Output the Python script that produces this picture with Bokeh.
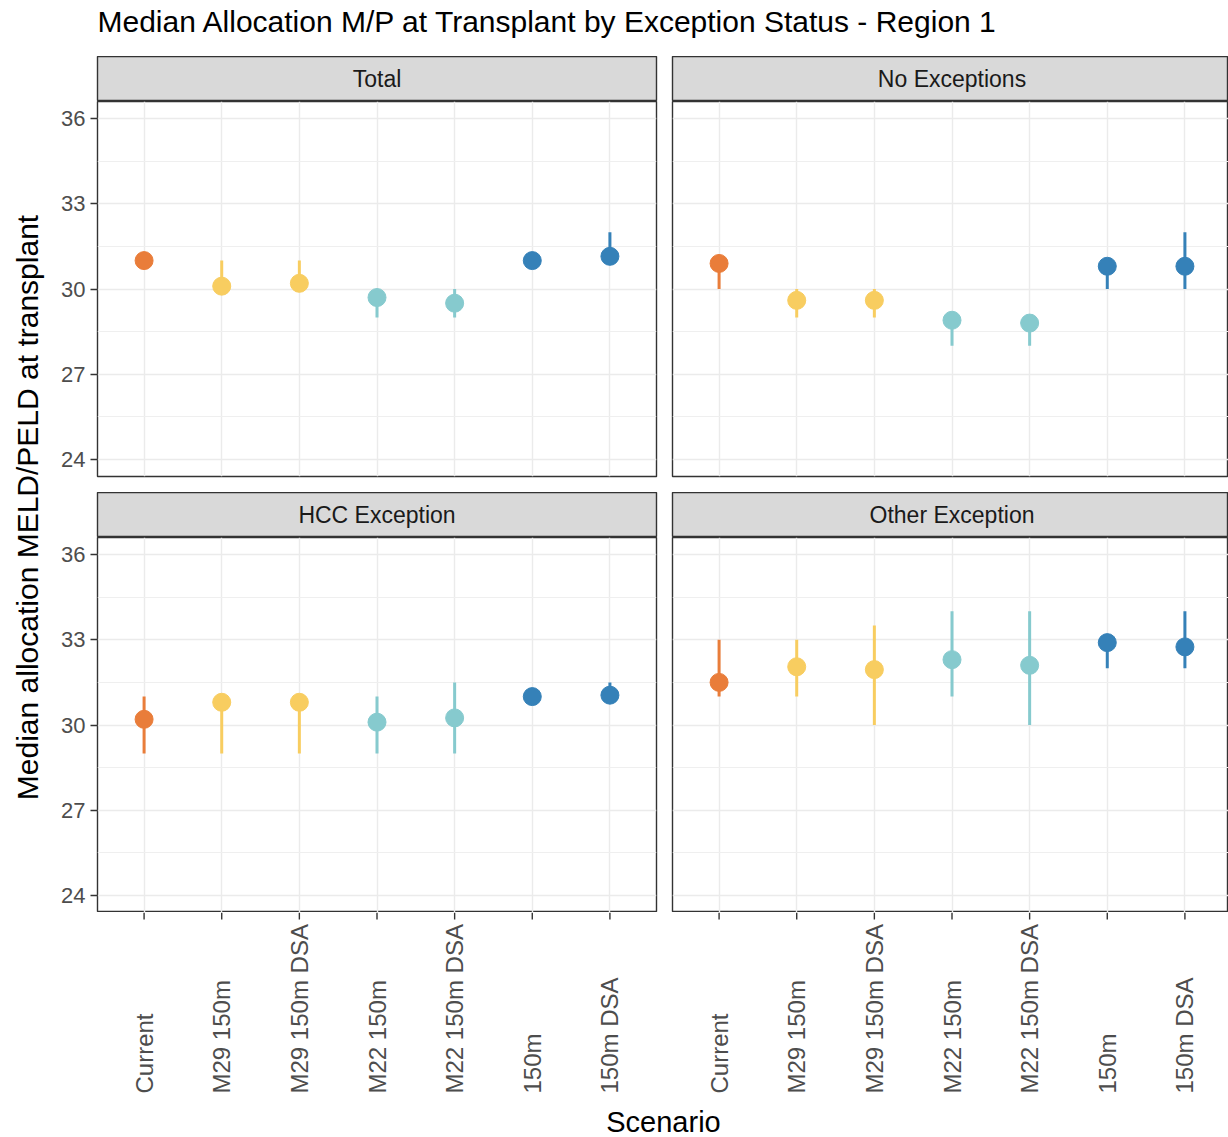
import math
from bokeh.plotting import figure
from bokeh.layouts import column, row
from bokeh.models import Range1d, FixedTicker, ColumnDataSource
from bokeh.core.properties import value
from bokeh.embed import file_html
from bokeh.resources import INLINE

# ---------------- data ----------------
scenarios = ["Current", "M29 150m", "M29 150m DSA", "M22 150m", "M22 150m DSA", "150m", "150m DSA"]
scenario_group = ["Current", "M29", "M29", "M22", "M22", "150m", "150m"]
group_colors = {"Current": "#E97D3A", "M29": "#F8CD60", "M22": "#86CACE", "150m": "#3581B8"}

facets = ["Total", "No Exceptions", "HCC Exception", "Other Exception"]

total_med = [31.0, 30.1, 30.2, 29.7, 29.5, 31.0, 31.15]
total_lo = [31.0, 30.0, 30.0, 29.0, 29.0, 31.0, 31.0]
total_hi = [31.0, 31.0, 31.0, 30.0, 30.0, 31.0, 32.0]

noexc_med = [30.9, 29.6, 29.6, 28.9, 28.8, 30.8, 30.8]
noexc_lo = [30.0, 29.0, 29.0, 28.0, 28.0, 30.0, 30.0]
noexc_hi = [31.0, 30.0, 30.0, 29.0, 29.0, 31.0, 32.0]

hcc_med = [30.2, 30.8, 30.8, 30.1, 30.25, 31.0, 31.05]
hcc_lo = [29.0, 29.0, 29.0, 29.0, 29.0, 31.0, 31.0]
hcc_hi = [31.0, 31.0, 31.0, 31.0, 31.5, 31.0, 31.5]

other_med = [31.5, 32.05, 31.95, 32.3, 32.1, 32.9, 32.75]
other_lo = [31.0, 31.0, 30.0, 31.0, 30.0, 32.0, 32.0]
other_hi = [33.0, 33.0, 33.5, 34.0, 34.0, 33.0, 34.0]

y_ticks = [24, 27, 30, 33, 36]
y_minor = [25.5, 28.5, 31.5, 34.5]

title_text = "Median Allocation M/P at Transplant by Exception Status - Region 1"
y_title = "Median allocation MELD/PELD at transplant"
x_title = "Scenario"

# ---------------- layout constants ----------------
FONT = value("Liberation Sans")
TITLE_H = 56
YLAB_W = 56
LEFT_PAD = 41
GAP_HALF = 8
FRAME_W_L = 559
FRAME_W_R = 556
STRIP_H = 45
FRAME_H = 375
ROW_GAP = 16
LABEL_H = 186
XT_H = 39
TOTAL_W = YLAB_W + LEFT_PAD + FRAME_W_L + GAP_HALF + GAP_HALF + FRAME_W_R

n = len(scenarios)
xs = [i + 1 for i in range(n)]
x_start = 0.4
x_end_full = n + 0.6
x_end_right = x_start + (x_end_full - x_start) * FRAME_W_R / FRAME_W_L
colors = [group_colors[g] for g in scenario_group]


def base_fig(width, height, x_end, y_range, mbl, mbr, mbt=0, mbb=0, yaxis=False):
    p = figure(width=width, height=height, x_range=Range1d(x_start, x_end),
               y_range=y_range, output_backend="svg", toolbar_location=None,
               title=None, x_axis_location=None,
               y_axis_location="left" if yaxis else None,
               min_border_left=mbl, min_border_right=mbr,
               min_border_top=mbt, min_border_bottom=mbb,
               background_fill_color="white", border_fill_color="white")
    return p


def dims(is_left):
    if is_left:
        return LEFT_PAD + FRAME_W_L + GAP_HALF, LEFT_PAD, GAP_HALF, x_end_full
    return GAP_HALF + FRAME_W_R, GAP_HALF, 0, x_end_right


def panel(med, lo, hi, is_left, is_top):
    w, mbl, mbr, xe = dims(is_left)
    mbb = ROW_GAP if is_top else 0
    p = base_fig(w, FRAME_H + mbb, xe, Range1d(23.4, 36.6), mbl, mbr, 0, mbb, yaxis=is_left)
    p.outline_line_color = "#333333"
    p.outline_line_width = 1.4
    p.xgrid.ticker = FixedTicker(ticks=xs)
    p.ygrid.ticker = FixedTicker(ticks=y_ticks, minor_ticks=y_minor)
    p.xgrid.grid_line_color = "#EBEBEB"
    p.ygrid.grid_line_color = "#EBEBEB"
    p.xgrid.grid_line_width = 1.4
    p.ygrid.grid_line_width = 1.4
    p.ygrid.minor_grid_line_color = "#EFEFEF"
    p.ygrid.minor_grid_line_width = 1.0
    if is_left:
        ax = p.yaxis[0]
        ax.ticker = FixedTicker(ticks=y_ticks)
        ax.axis_line_color = None
        ax.major_tick_out = 7
        ax.major_tick_in = 0
        ax.minor_tick_line_color = None
        ax.major_tick_line_color = "#333333"
        ax.major_tick_line_width = 1.4
        ax.major_label_standoff = 5
        ax.major_label_text_font = "Liberation Sans"
        ax.major_label_text_font_size = "22px"
        ax.major_label_text_color = "#4D4D4D"
    src = ColumnDataSource(dict(x=xs, med=med, lo=lo, hi=hi, color=colors))
    p.segment(x0="x", y0="lo", x1="x", y1="hi", source=src, line_color="color", line_width=3)
    p.scatter(x="x", y="med", source=src, size=18, fill_color="color", line_color="color")
    return p


def strip(label, is_left):
    w, mbl, mbr, xe = dims(is_left)
    s = base_fig(w, STRIP_H, xe, Range1d(0, 1), mbl, mbr)
    s.background_fill_color = "#D9D9D9"
    s.outline_line_color = "#333333"
    s.outline_line_width = 1.4
    s.grid.visible = False
    s.text(x=[(x_start + x_end_full) / 2], y=[0.5], text=[label], text_align="center",
           text_baseline="middle", text_font=FONT, text_font_size="23px", text_color="#1A1A1A")
    return s


def xlabels(is_left):
    w, mbl, mbr, xe = dims(is_left)
    f = base_fig(w, LABEL_H, xe, Range1d(0, LABEL_H), mbl, mbr)
    f.outline_line_color = None
    f.grid.visible = False
    f.segment(x0=xs, y0=[LABEL_H] * n, x1=xs, y1=[LABEL_H - 7] * n, line_color="#333333", line_width=1.4)
    f.text(x=xs, y=[5] * n, text=scenarios, angle=math.pi / 2, text_align="left",
           text_baseline="middle", text_font=FONT, text_font_size="24px", text_color="#4D4D4D")
    return f


def blank(width, height):
    f = figure(width=width, height=height, x_range=Range1d(0, width), y_range=Range1d(0, height),
               output_backend="svg", toolbar_location=None, title=None,
               x_axis_location=None, y_axis_location=None,
               min_border_left=0, min_border_right=0, min_border_top=0, min_border_bottom=0)
    f.outline_line_color = None
    f.grid.visible = False
    return f


# title
title_fig = blank(TOTAL_W, TITLE_H)
title_fig.text(x=[YLAB_W + LEFT_PAD], y=[TITLE_H - 21], text=[title_text], text_align="left",
               text_baseline="middle", text_font=FONT, text_font_size="30px", text_color="black")

# y label
grid_h = STRIP_H * 2 + FRAME_H * 2 + ROW_GAP
ylab_fig = blank(YLAB_W, grid_h)
ylab_fig.text(x=[27], y=[grid_h - 451], text=[y_title], angle=math.pi / 2, text_align="center",
              text_baseline="middle", text_font=FONT, text_font_size="30px", text_color="black")

panels = column(
    row(strip(facets[0], True), strip(facets[1], False)),
    row(panel(total_med, total_lo, total_hi, True, True), panel(noexc_med, noexc_lo, noexc_hi, False, True)),
    row(strip(facets[2], True), strip(facets[3], False)),
    row(panel(hcc_med, hcc_lo, hcc_hi, True, False), panel(other_med, other_lo, other_hi, False, False)),
)

lab_row = row(blank(YLAB_W, LABEL_H), xlabels(True), xlabels(False))

xt_fig = blank(TOTAL_W, XT_H)
xt_fig.text(x=[663], y=[16], text=[x_title], text_align="center", text_baseline="middle",
            text_font=FONT, text_font_size="29px", text_color="black")

layout = column(title_fig, row(ylab_fig, panels), lab_row, xt_fig)

open("out.html", "w").write(file_html(layout, INLINE))
